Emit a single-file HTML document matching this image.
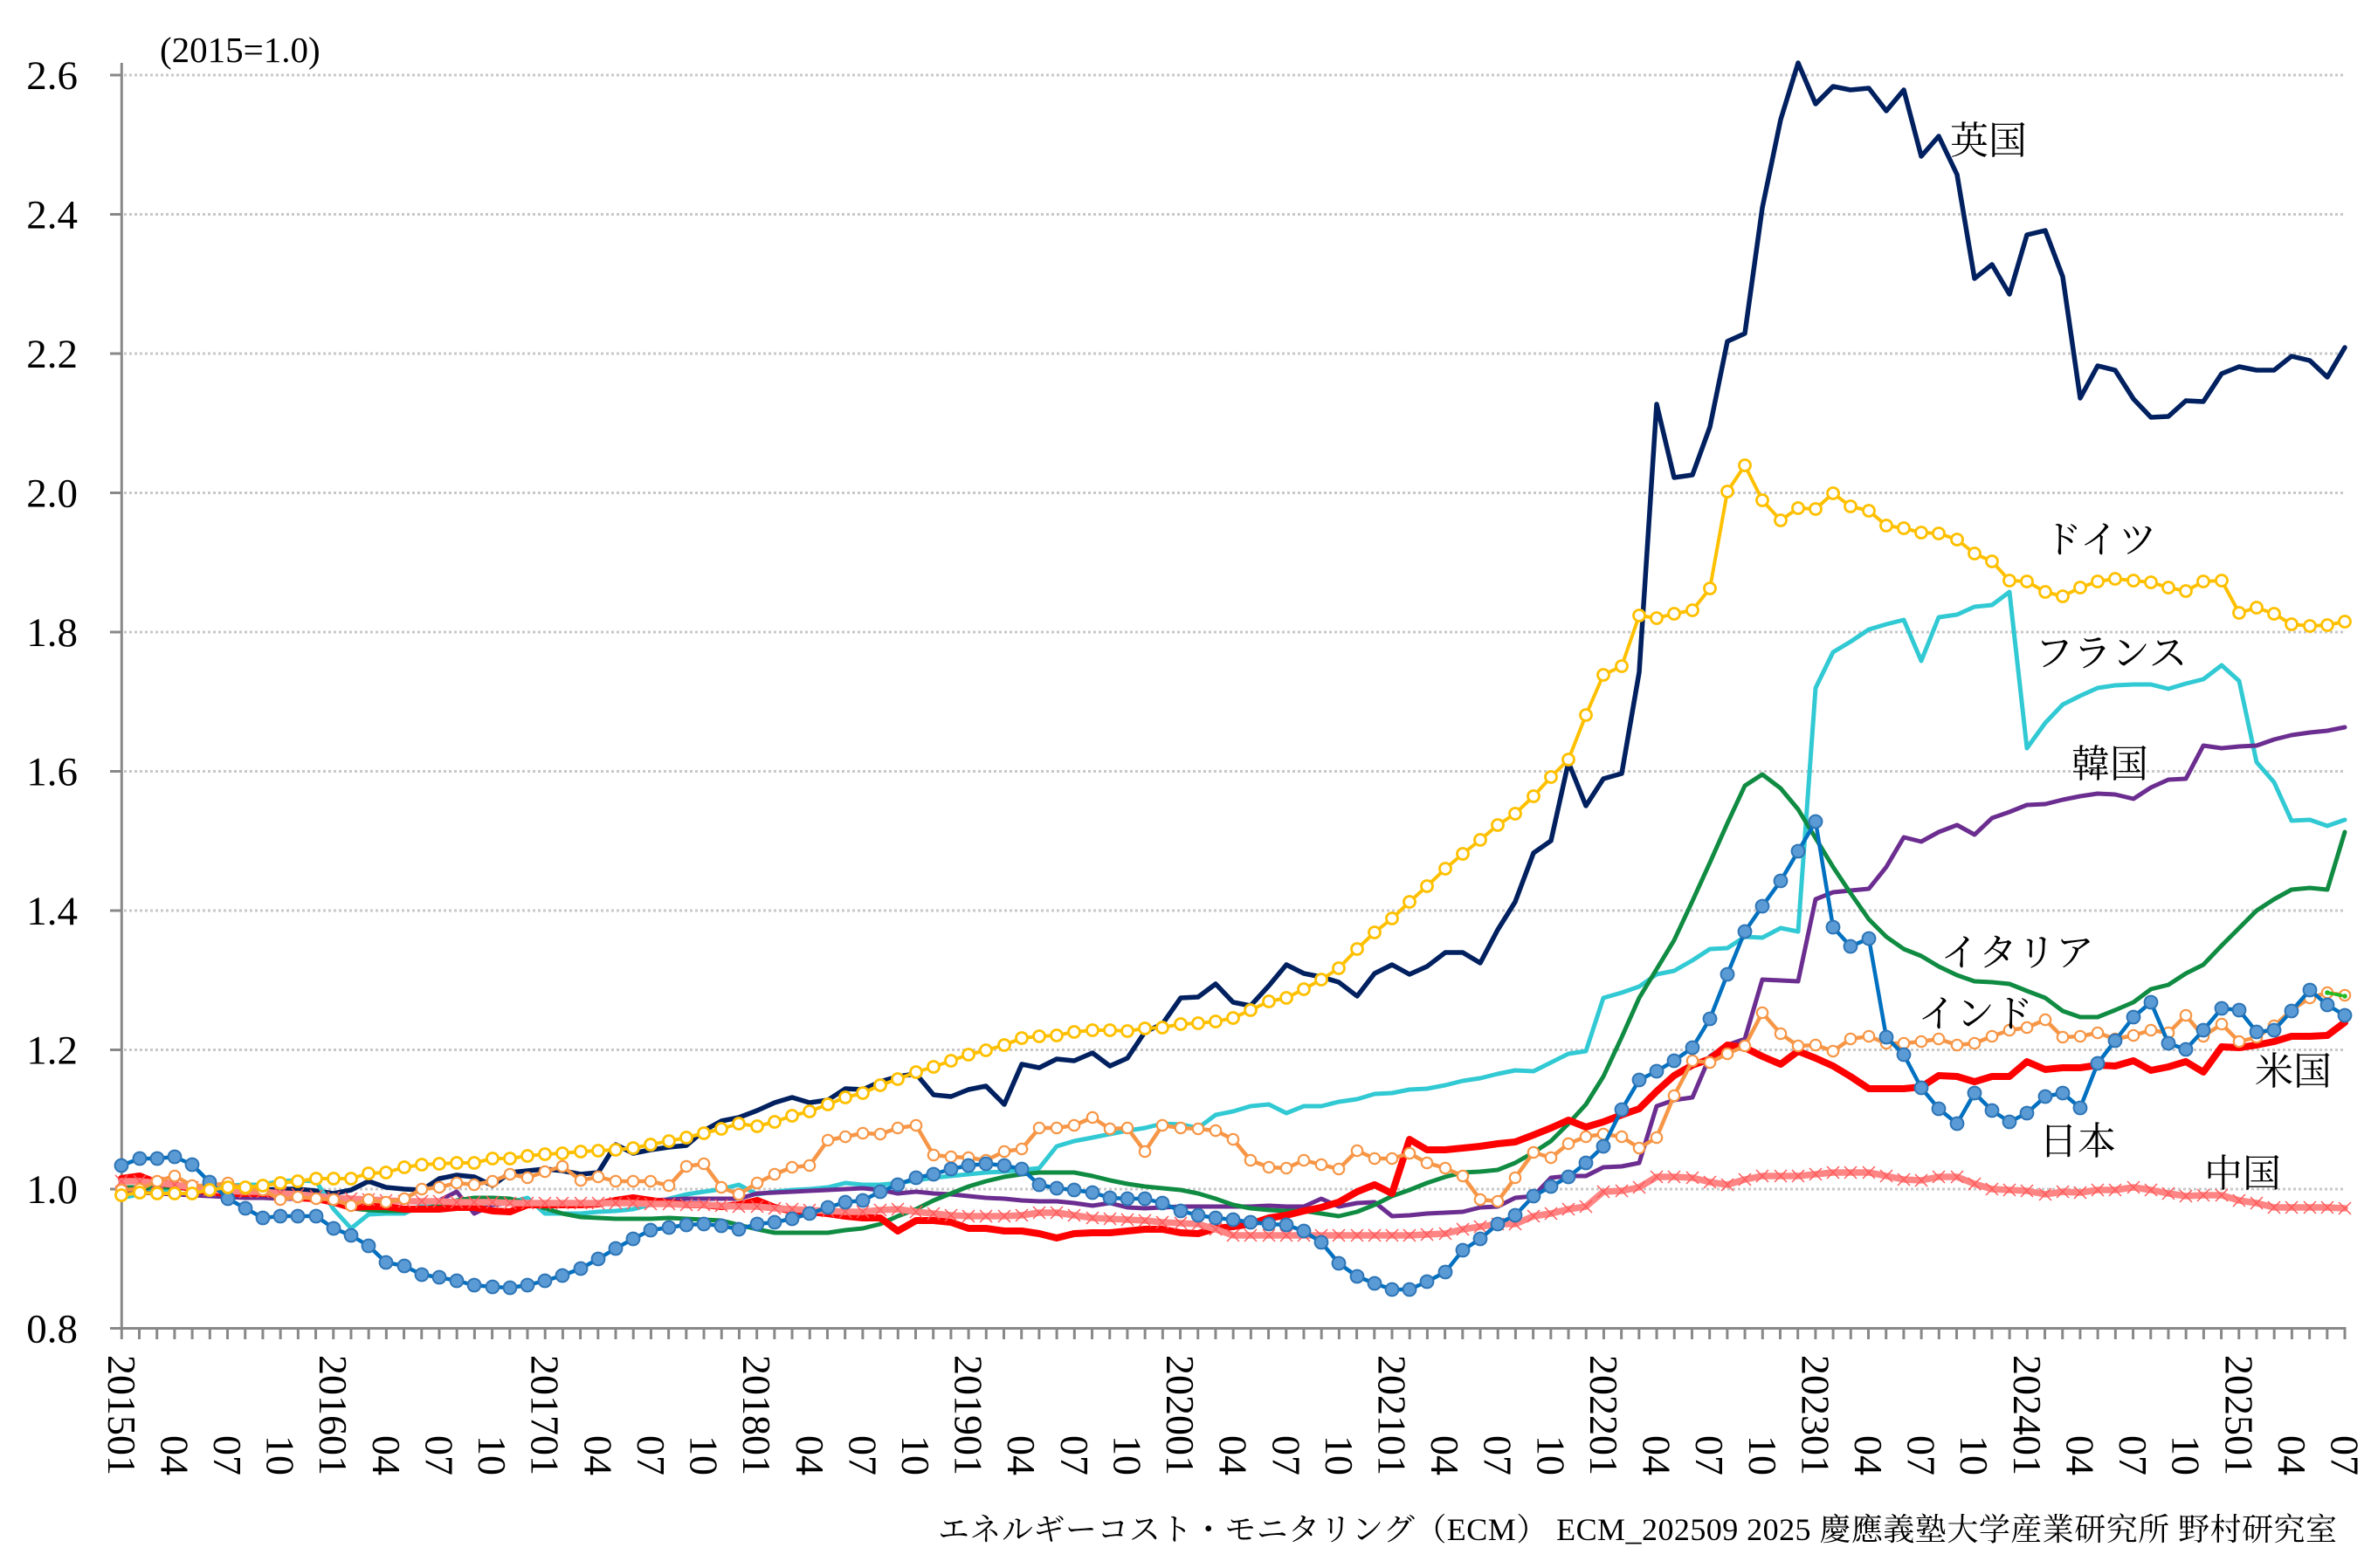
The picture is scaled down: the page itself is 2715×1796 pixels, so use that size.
<!DOCTYPE html>
<html><head><meta charset="utf-8"><style>
html,body{margin:0;padding:0;background:#fff;}
body{width:2715px;height:1796px;overflow:hidden;}
svg{display:block;}
.ax{font-family:"Liberation Serif","Noto Serif CJK SC",serif;fill:#000;}
.xl{font-size:46px;text-anchor:end;dominant-baseline:central;}
.yl{font-size:47px;text-anchor:end;}
.lab{font-family:"Liberation Serif","Noto Serif CJK SC",serif;font-size:44px;fill:#000;}
.ln{fill:none;stroke-linejoin:round;stroke-linecap:round;}
</style></head><body>
<svg width="2715" height="1796" viewBox="0 0 2715 1796" xmlns="http://www.w3.org/2000/svg">
<defs>
<marker id="mG" markerUnits="userSpaceOnUse" markerWidth="20" markerHeight="20" refX="10" refY="10" overflow="visible"><circle cx="10" cy="10" r="6.5" fill="#fff" stroke="#FFC000" stroke-width="2.8"/></marker>
<marker id="mI" markerUnits="userSpaceOnUse" markerWidth="20" markerHeight="20" refX="10" refY="10" overflow="visible"><circle cx="10" cy="10" r="6.2" fill="#fff" stroke="#F79646" stroke-width="2.2"/></marker>
<marker id="mJ" markerUnits="userSpaceOnUse" markerWidth="20" markerHeight="20" refX="10" refY="10" overflow="visible"><circle cx="10" cy="10" r="7.4" fill="#5B9BD5" stroke="#2E75B6" stroke-width="2"/></marker>
<marker id="mC" markerUnits="userSpaceOnUse" markerWidth="14" markerHeight="14" refX="7" refY="7" overflow="visible"><path d="M0,0L14,14M0,14L14,0" stroke="#FF5A5A" stroke-width="1.5" fill="none"/></marker>
<marker id="mL" markerUnits="userSpaceOnUse" markerWidth="10" markerHeight="10" refX="5" refY="5" overflow="visible"><circle cx="5" cy="5" r="2.8" fill="#22BB22"/></marker>
</defs>
<rect x="0" y="0" width="2715" height="1796" fill="#fff"/>

<!-- gridlines -->
<g stroke="#C8C8C8" stroke-width="3" stroke-dasharray="3 3">
<line x1="142" y1="86" x2="2685" y2="86"/>
<line x1="142" y1="245.5" x2="2685" y2="245.5"/>
<line x1="142" y1="405" x2="2685" y2="405"/>
<line x1="142" y1="564.5" x2="2685" y2="564.5"/>
<line x1="142" y1="724" x2="2685" y2="724"/>
<line x1="142" y1="883.5" x2="2685" y2="883.5"/>
<line x1="142" y1="1043" x2="2685" y2="1043"/>
<line x1="142" y1="1202.5" x2="2685" y2="1202.5"/>
<line x1="142" y1="1362" x2="2685" y2="1362"/>
</g>

<!-- axes -->
<g stroke="#888888" stroke-width="3" fill="none">
<line x1="139.3" y1="72" x2="139.3" y2="1523"/>
<line x1="126" y1="1521.5" x2="2686.5" y2="1521.5"/>
<line x1="126" y1="86" x2="139" y2="86"/>
<line x1="126" y1="245.5" x2="139" y2="245.5"/>
<line x1="126" y1="405" x2="139" y2="405"/>
<line x1="126" y1="564.5" x2="139" y2="564.5"/>
<line x1="126" y1="724" x2="139" y2="724"/>
<line x1="126" y1="883.5" x2="139" y2="883.5"/>
<line x1="126" y1="1043" x2="139" y2="1043"/>
<line x1="126" y1="1202.5" x2="139" y2="1202.5"/>
<line x1="126" y1="1362" x2="139" y2="1362"/>
</g>
<path d="M137.8,1528 H2688" stroke="#888888" stroke-width="12" stroke-dasharray="3 17.204" fill="none"/>

<!-- y labels -->
<g class="ax yl">
<text x="89" y="102">2.6</text>
<text x="89" y="261.5">2.4</text>
<text x="89" y="421">2.2</text>
<text x="89" y="580.5">2.0</text>
<text x="89" y="740">1.8</text>
<text x="89" y="899.5">1.6</text>
<text x="89" y="1059">1.4</text>
<text x="89" y="1218.5">1.2</text>
<text x="89" y="1378">1.0</text>
<text x="89" y="1537.5">0.8</text>
</g>
<text class="ax" x="183" y="71" font-size="41">(2015=1.0)</text>

<!-- x labels -->
<g class="ax xl">
<text transform="translate(139.3 1690) rotate(90)">201501</text>
<text transform="translate(199.9 1690) rotate(90)">04</text>
<text transform="translate(260.5 1690) rotate(90)">07</text>
<text transform="translate(321.1 1690) rotate(90)">10</text>
<text transform="translate(381.7 1690) rotate(90)">201601</text>
<text transform="translate(442.4 1690) rotate(90)">04</text>
<text transform="translate(503.0 1690) rotate(90)">07</text>
<text transform="translate(563.6 1690) rotate(90)">10</text>
<text transform="translate(624.2 1690) rotate(90)">201701</text>
<text transform="translate(684.8 1690) rotate(90)">04</text>
<text transform="translate(745.4 1690) rotate(90)">07</text>
<text transform="translate(806.0 1690) rotate(90)">10</text>
<text transform="translate(866.6 1690) rotate(90)">201801</text>
<text transform="translate(927.3 1690) rotate(90)">04</text>
<text transform="translate(987.9 1690) rotate(90)">07</text>
<text transform="translate(1048.5 1690) rotate(90)">10</text>
<text transform="translate(1109.1 1690) rotate(90)">201901</text>
<text transform="translate(1169.7 1690) rotate(90)">04</text>
<text transform="translate(1230.3 1690) rotate(90)">07</text>
<text transform="translate(1290.9 1690) rotate(90)">10</text>
<text transform="translate(1351.5 1690) rotate(90)">202001</text>
<text transform="translate(1412.2 1690) rotate(90)">04</text>
<text transform="translate(1472.8 1690) rotate(90)">07</text>
<text transform="translate(1533.4 1690) rotate(90)">10</text>
<text transform="translate(1594.0 1690) rotate(90)">202101</text>
<text transform="translate(1654.6 1690) rotate(90)">04</text>
<text transform="translate(1715.2 1690) rotate(90)">07</text>
<text transform="translate(1775.8 1690) rotate(90)">10</text>
<text transform="translate(1836.4 1690) rotate(90)">202201</text>
<text transform="translate(1897.0 1690) rotate(90)">04</text>
<text transform="translate(1957.7 1690) rotate(90)">07</text>
<text transform="translate(2018.3 1690) rotate(90)">10</text>
<text transform="translate(2078.9 1690) rotate(90)">202301</text>
<text transform="translate(2139.5 1690) rotate(90)">04</text>
<text transform="translate(2200.1 1690) rotate(90)">07</text>
<text transform="translate(2260.7 1690) rotate(90)">10</text>
<text transform="translate(2321.3 1690) rotate(90)">202401</text>
<text transform="translate(2381.9 1690) rotate(90)">04</text>
<text transform="translate(2442.5 1690) rotate(90)">07</text>
<text transform="translate(2503.1 1690) rotate(90)">10</text>
<text transform="translate(2563.8 1690) rotate(90)">202501</text>
<text transform="translate(2624.4 1690) rotate(90)">04</text>
<text transform="translate(2685.0 1690) rotate(90)">07</text>
</g>

<!-- UK -->
<polyline class="ln" stroke="#002060" stroke-width="5.5" points="139,1362 160,1360 180,1362 200,1360 220,1361 240,1362 261,1364 281,1364 301,1363 321,1362 341,1362 362,1364 382,1367 402,1363 422,1353 442,1360 463,1362 483,1363 503,1350 523,1346 543,1348 564,1358 584,1343 604,1341 624,1339 644,1341 665,1345 685,1343 705,1311 725,1321 745,1317 766,1314 786,1312 806,1295 826,1284 846,1280 867,1272 887,1263 907,1257 927,1263 948,1260 968,1247 988,1248 1008,1239 1028,1233 1049,1230 1069,1254 1089,1256 1109,1248 1129,1244 1150,1265 1170,1219 1190,1223 1210,1213 1230,1215 1251,1206 1271,1221 1291,1212 1311,1182 1331,1173 1352,1143 1372,1142 1392,1127 1412,1148 1432,1152 1453,1129 1473,1105 1493,1115 1513,1119 1533,1125 1554,1141 1574,1115 1594,1105 1614,1116 1634,1107 1655,1091 1675,1091 1695,1103 1715,1065 1735,1033 1756,977 1776,963 1796,873 1816,923 1836,892 1857,886 1877,770 1897,463 1917,547 1938,544 1958,489 1978,391 1998,382 2018,238 2039,137 2059,72 2079,119 2099,99 2119,103 2140,101 2160,127 2180,103 2200,179 2220,156 2241,200 2261,319 2281,303 2301,337 2321,269 2342,264 2362,317 2382,456 2402,419 2422,424 2443,457 2463,478 2483,477 2503,459 2523,460 2544,428 2564,420 2584,424 2604,424 2624,408 2645,413 2665,432 2685,398"/>

<!-- France -->
<polyline class="ln" stroke="#31C9D3" stroke-width="5" points="139,1372 160,1368 180,1363 200,1362 220,1360 240,1360 261,1358 281,1357 301,1357 321,1353 341,1352 362,1353 382,1385 402,1407 422,1391 442,1390 463,1390 483,1380 503,1378 523,1378 543,1379 564,1380 584,1377 604,1372 624,1390 644,1390 665,1390 685,1388 705,1387 725,1385 745,1380 766,1373 786,1368 806,1365 826,1362 846,1357 867,1368 887,1365 907,1363 927,1362 948,1360 968,1355 988,1357 1008,1357 1028,1355 1049,1352 1069,1349 1089,1347 1109,1345 1129,1343 1150,1342 1170,1340 1190,1338 1210,1313 1230,1307 1251,1303 1271,1299 1291,1295 1311,1292 1331,1287 1352,1288 1372,1292 1392,1277 1412,1273 1432,1267 1453,1265 1473,1275 1493,1267 1513,1267 1533,1262 1554,1259 1574,1253 1594,1252 1614,1248 1634,1247 1655,1243 1675,1238 1695,1235 1715,1230 1735,1226 1756,1227 1776,1217 1796,1207 1816,1204 1836,1143 1857,1137 1877,1130 1897,1116 1917,1112 1938,1100 1958,1087 1978,1086 1998,1073 2018,1074 2039,1063 2059,1067 2079,788 2099,747 2119,735 2140,721 2160,715 2180,710 2200,757 2220,707 2241,704 2261,695 2281,693 2301,678 2321,857 2342,828 2362,807 2382,797 2402,788 2422,785 2443,784 2463,784 2483,789 2503,783 2523,778 2544,762 2564,780 2584,873 2604,896 2624,940 2645,939 2665,946 2685,939"/>

<!-- Korea -->
<polyline class="ln" stroke="#6B2D90" stroke-width="5" points="139,1365 160,1366 180,1367 200,1368 220,1369 240,1370 261,1371 281,1372 301,1372 321,1373 341,1373 362,1374 382,1374 402,1375 422,1375 442,1376 463,1377 483,1377 503,1375 523,1365 543,1390 564,1380 584,1378 604,1378 624,1378 644,1378 665,1377 685,1377 705,1377 725,1376 745,1375 766,1374 786,1373 806,1373 826,1373 846,1373 867,1367 887,1366 907,1365 927,1364 948,1363 968,1362 988,1361 1008,1363 1028,1367 1049,1365 1069,1367 1089,1368 1109,1370 1129,1372 1150,1373 1170,1375 1190,1376 1210,1376 1230,1378 1251,1381 1271,1378 1291,1383 1311,1384 1331,1383 1352,1382 1372,1382 1392,1382 1412,1382 1432,1382 1453,1381 1473,1382 1493,1382 1513,1373 1533,1382 1554,1378 1574,1377 1594,1393 1614,1392 1634,1390 1655,1389 1675,1388 1695,1383 1715,1382 1735,1372 1756,1370 1776,1349 1796,1347 1816,1347 1836,1337 1857,1336 1877,1332 1897,1267 1917,1260 1938,1257 1958,1210 1978,1197 1998,1190 2018,1122 2039,1123 2059,1124 2079,1030 2099,1022 2119,1020 2140,1018 2160,993 2180,959 2200,964 2220,953 2241,945 2261,956 2281,937 2301,930 2321,922 2342,921 2362,916 2382,912 2402,909 2422,910 2443,915 2463,902 2483,893 2503,892 2523,854 2544,857 2564,855 2584,854 2604,847 2624,842 2645,839 2665,837 2685,833"/>

<!-- Italy -->
<polyline class="ln" stroke="#0F8B42" stroke-width="5" points="139,1360 160,1360 180,1360 200,1360 220,1362 240,1362 261,1363 281,1363 301,1365 321,1367 341,1370 362,1373 382,1377 402,1384 422,1386 442,1387 463,1387 483,1386 503,1380 523,1375 543,1372 564,1372 584,1373 604,1378 624,1384 644,1390 665,1394 685,1395 705,1396 725,1396 745,1396 766,1395 786,1396 806,1397 826,1398 846,1403 867,1408 887,1412 907,1412 927,1412 948,1412 968,1409 988,1407 1008,1402 1028,1393 1049,1385 1069,1375 1089,1367 1109,1359 1129,1353 1150,1348 1170,1345 1190,1343 1210,1343 1230,1343 1251,1347 1271,1352 1291,1356 1311,1359 1331,1361 1352,1363 1372,1367 1392,1373 1412,1380 1432,1384 1453,1386 1473,1387 1493,1387 1513,1390 1533,1393 1554,1388 1574,1380 1594,1370 1614,1363 1634,1355 1655,1348 1675,1343 1695,1342 1715,1340 1735,1332 1756,1320 1776,1307 1796,1287 1816,1265 1836,1233 1857,1188 1877,1143 1897,1110 1917,1077 1938,1032 1958,988 1978,943 1998,900 2018,887 2039,903 2059,927 2079,960 2099,993 2119,1023 2140,1053 2160,1073 2180,1087 2200,1095 2220,1107 2241,1117 2261,1124 2281,1125 2301,1127 2321,1135 2342,1143 2362,1158 2382,1165 2402,1165 2422,1157 2443,1148 2463,1133 2483,1128 2503,1115 2523,1105 2544,1083 2564,1063 2584,1043 2604,1030 2624,1019 2645,1017 2665,1019 2685,953"/>

<!-- US -->
<polyline class="ln" stroke="#FF0000" stroke-width="8" points="139,1350 160,1347 180,1355 200,1357 220,1362 240,1365 261,1367 281,1367 301,1367 321,1368 341,1372 362,1373 382,1377 402,1383 422,1382 442,1382 463,1385 483,1385 503,1385 523,1383 543,1383 564,1387 584,1388 604,1380 624,1380 644,1380 665,1380 685,1379 705,1375 725,1372 745,1375 766,1378 786,1380 806,1380 826,1382 846,1380 867,1375 887,1383 907,1387 927,1388 948,1390 968,1393 988,1395 1008,1395 1028,1410 1049,1398 1069,1398 1089,1400 1109,1407 1129,1407 1150,1410 1170,1410 1190,1413 1210,1418 1230,1413 1251,1412 1271,1412 1291,1410 1311,1408 1331,1408 1352,1412 1372,1413 1392,1407 1412,1405 1432,1402 1453,1395 1473,1392 1493,1387 1513,1383 1533,1377 1554,1365 1574,1357 1594,1367 1614,1305 1634,1317 1655,1317 1675,1315 1695,1313 1715,1310 1735,1308 1756,1300 1776,1292 1796,1283 1816,1291 1836,1285 1857,1277 1877,1270 1897,1250 1917,1232 1938,1220 1958,1213 1978,1197 1998,1200 2018,1210 2039,1219 2059,1204 2079,1212 2099,1221 2119,1233 2140,1247 2160,1247 2180,1247 2200,1245 2220,1232 2241,1233 2261,1239 2281,1233 2301,1233 2321,1216 2342,1225 2362,1223 2382,1223 2402,1220 2422,1221 2443,1215 2463,1226 2483,1222 2503,1216 2523,1228 2544,1199 2564,1200 2584,1197 2604,1193 2624,1187 2645,1187 2665,1186 2685,1171"/>

<!-- China -->
<polyline class="ln" stroke="#FF8585" stroke-width="7.5" marker-start="url(#mC)" marker-mid="url(#mC)" marker-end="url(#mC)" points="139,1353 160,1353 180,1355 200,1357 220,1360 240,1363 261,1364 281,1365 301,1365 321,1367 341,1368 362,1370 382,1372 402,1373 422,1374 442,1375 463,1376 483,1376 503,1376 523,1377 543,1377 564,1377 584,1378 604,1378 624,1378 644,1378 665,1378 685,1378 705,1378 725,1378 745,1379 766,1379 786,1380 806,1380 826,1381 846,1382 867,1382 887,1384 907,1385 927,1386 948,1387 968,1388 988,1388 1008,1386 1028,1385 1049,1388 1069,1390 1089,1392 1109,1393 1129,1393 1150,1393 1170,1392 1190,1389 1210,1389 1230,1392 1251,1395 1271,1396 1291,1397 1311,1398 1331,1400 1352,1401 1372,1402 1392,1408 1412,1415 1432,1415 1453,1415 1473,1415 1493,1415 1513,1415 1533,1415 1554,1415 1574,1415 1594,1415 1614,1415 1634,1414 1655,1413 1675,1408 1695,1405 1715,1402 1735,1402 1756,1393 1776,1390 1796,1385 1816,1382 1836,1365 1857,1364 1877,1360 1897,1348 1917,1348 1938,1349 1958,1354 1978,1357 1998,1351 2018,1347 2039,1347 2059,1347 2079,1345 2099,1343 2119,1343 2140,1343 2160,1347 2180,1351 2200,1352 2220,1348 2241,1348 2261,1356 2281,1362 2301,1363 2321,1364 2342,1368 2362,1365 2382,1366 2402,1363 2422,1363 2443,1360 2463,1363 2483,1367 2503,1370 2523,1369 2544,1369 2564,1375 2584,1378 2604,1383 2624,1383 2645,1383 2665,1383 2685,1384"/>

<!-- India -->
<polyline class="ln" stroke="#F79646" stroke-width="4.5" marker-start="url(#mI)" marker-mid="url(#mI)" marker-end="url(#mI)" points="139,1363 160,1362 180,1353 200,1347 220,1358 240,1358 261,1355 281,1362 301,1363 321,1374 341,1371 362,1373 382,1374 402,1381 422,1374 442,1377 463,1373 483,1362 503,1360 523,1355 543,1357 564,1353 584,1345 604,1349 624,1342 644,1336 665,1352 685,1348 705,1353 725,1353 745,1353 766,1358 786,1336 806,1333 826,1360 846,1368 867,1355 887,1345 907,1337 927,1335 948,1306 968,1302 988,1298 1008,1299 1028,1292 1049,1289 1069,1323 1089,1325 1109,1326 1129,1329 1150,1319 1170,1316 1190,1292 1210,1292 1230,1289 1251,1280 1271,1293 1291,1292 1311,1319 1331,1289 1352,1292 1372,1293 1392,1295 1412,1305 1432,1329 1453,1337 1473,1338 1493,1329 1513,1334 1533,1339 1554,1318 1574,1327 1594,1327 1614,1321 1634,1332 1655,1338 1675,1347 1695,1374 1715,1376 1735,1349 1756,1320 1776,1326 1796,1310 1816,1302 1836,1299 1857,1302 1877,1315 1897,1303 1917,1255 1938,1215 1958,1217 1978,1207 1998,1198 2018,1160 2039,1184 2059,1198 2079,1197 2099,1204 2119,1190 2140,1187 2160,1195 2180,1195 2200,1193 2220,1190 2241,1197 2261,1195 2281,1187 2301,1180 2321,1177 2342,1168 2362,1188 2382,1187 2402,1183 2422,1190 2443,1186 2463,1180 2483,1183 2503,1163 2523,1187 2544,1173 2564,1193 2584,1188 2604,1175 2624,1157 2645,1143 2665,1137 2685,1140"/>

<!-- Japan -->
<polyline class="ln" stroke="#0070C0" stroke-width="4.5" marker-start="url(#mJ)" marker-mid="url(#mJ)" marker-end="url(#mJ)" points="139,1335 160,1327 180,1327 200,1325 220,1334 240,1354 261,1373 281,1384 301,1395 321,1393 341,1393 362,1393 382,1407 402,1415 422,1427 442,1446 463,1450 483,1460 503,1463 523,1467 543,1472 564,1474 584,1475 604,1472 624,1467 644,1461 665,1453 685,1442 705,1430 725,1419 745,1409 766,1406 786,1403 806,1402 826,1404 846,1408 867,1402 887,1400 907,1396 927,1390 948,1383 968,1377 988,1375 1008,1365 1028,1357 1049,1349 1069,1345 1089,1339 1109,1335 1129,1333 1150,1335 1170,1339 1190,1357 1210,1361 1230,1363 1251,1366 1271,1372 1291,1373 1311,1373 1331,1378 1352,1387 1372,1392 1392,1395 1412,1397 1432,1400 1453,1402 1473,1403 1493,1410 1513,1423 1533,1447 1554,1462 1574,1470 1594,1477 1614,1477 1634,1468 1655,1457 1675,1432 1695,1419 1715,1402 1735,1392 1756,1370 1776,1359 1796,1348 1816,1332 1836,1313 1857,1271 1877,1237 1897,1227 1917,1215 1938,1200 1958,1167 1978,1116 1998,1067 2018,1038 2039,1009 2059,975 2079,941 2099,1062 2119,1084 2140,1075 2160,1188 2180,1208 2200,1246 2220,1270 2241,1287 2261,1252 2281,1272 2301,1285 2321,1275 2342,1256 2362,1252 2382,1269 2402,1218 2422,1192 2443,1165 2463,1148 2483,1195 2503,1202 2523,1180 2544,1155 2564,1157 2584,1182 2604,1180 2624,1158 2645,1134 2665,1151 2685,1163"/>

<!-- Germany -->
<polyline class="ln" stroke="#FFC000" stroke-width="4" marker-start="url(#mG)" marker-mid="url(#mG)" marker-end="url(#mG)" points="139,1369 160,1366 180,1367 200,1367 220,1367 240,1363 261,1360 281,1360 301,1358 321,1355 341,1353 362,1350 382,1350 402,1350 422,1344 442,1343 463,1337 483,1334 503,1333 523,1332 543,1332 564,1327 584,1327 604,1324 624,1322 644,1321 665,1319 685,1318 705,1317 725,1315 745,1311 766,1307 786,1303 806,1298 826,1293 846,1287 867,1290 887,1285 907,1278 927,1273 948,1265 968,1257 988,1252 1008,1243 1028,1236 1049,1228 1069,1222 1089,1215 1109,1208 1129,1203 1150,1197 1170,1189 1190,1187 1210,1186 1230,1182 1251,1180 1271,1180 1291,1181 1311,1178 1331,1177 1352,1173 1372,1172 1392,1170 1412,1166 1432,1157 1453,1147 1473,1143 1493,1133 1513,1122 1533,1109 1554,1087 1574,1068 1594,1052 1614,1033 1634,1015 1655,995 1675,978 1695,962 1715,945 1735,932 1756,912 1776,890 1796,870 1816,819 1836,773 1857,763 1877,705 1897,708 1917,703 1938,699 1958,674 1978,563 1998,533 2018,573 2039,596 2059,582 2079,583 2099,565 2119,580 2140,585 2160,602 2180,605 2200,610 2220,611 2241,618 2261,634 2281,643 2301,665 2321,666 2342,678 2362,683 2382,673 2402,666 2422,663 2443,665 2463,667 2483,673 2503,677 2523,666 2544,665 2564,702 2584,696 2604,703 2624,715 2645,717 2665,716 2685,712"/>

<!-- extra short series -->
<polyline class="ln" stroke="#22BB22" stroke-width="4" stroke-dasharray="6 4" marker-start="url(#mL)" marker-end="url(#mL)" points="2665,1137 2685,1141"/>

<!-- series labels -->
<g class="lab">
<text x="2233" y="176">英国</text>
<text x="2340" y="633">ドイツ</text>
<text x="2330" y="763">フランス</text>
<text x="2372" y="890">韓国</text>
<text x="2222" y="1106">イタリア</text>
<text x="2196" y="1176">インド</text>
<text x="2582" y="1242">米国</text>
<text x="2335" y="1322">日本</text>
<text x="2524" y="1359">中国</text>
</g>

<!-- footer -->
<text x="2676" y="1764" font-size="36" text-anchor="end" textLength="1602" lengthAdjust="spacing" style="font-family:'Liberation Serif','Noto Serif CJK SC',serif;fill:#000;" xml:space="preserve">エネルギーコスト・モニタリング（ECM） ECM_202509 2025 慶應義塾大学産業研究所 野村研究室</text>
</svg>
</body></html>
